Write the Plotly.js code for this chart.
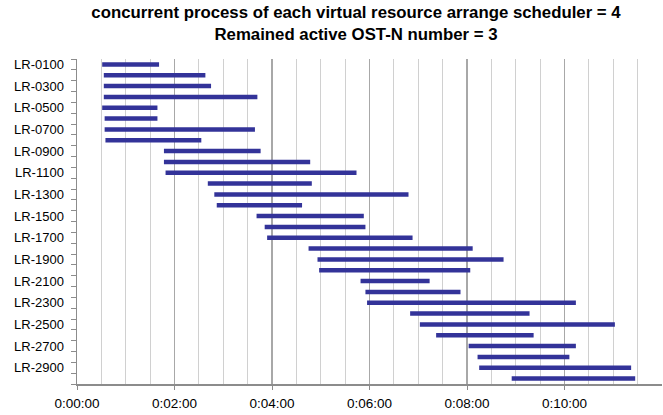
<!DOCTYPE html>
<html>
<head>
<meta charset="utf-8">
<script src="https://cdn.plot.ly/plotly-3.0.1.min.js"></script>
<style>
  html, body { margin: 0; padding: 0; background: #fff; }
  #chart { width: 663px; height: 415px; }
</style>
</head>
<body>
<div id="chart"></div>
<script>
// Resource labels (top to bottom)
const categories = [
  'LR-0100','LR-0200','LR-0300','LR-0400','LR-0500','LR-0600','LR-0700','LR-0800','LR-0900','LR-1000',
  'LR-1100','LR-1200','LR-1300','LR-1400','LR-1500','LR-1600','LR-1700','LR-1800','LR-1900','LR-2000',
  'LR-2100','LR-2200','LR-2300','LR-2400','LR-2500','LR-2600','LR-2700','LR-2800','LR-2900','LR-3000'
];
// Start and end times in seconds
const startSec = [31, 33, 33, 33, 31, 34, 34, 35, 107, 107,
                  109, 161, 169, 172, 221, 231, 234, 285, 296, 298,
                  349, 355, 357, 410, 422, 442, 482, 493, 495, 535];
const endSec   = [101, 158, 165, 222, 99, 99, 219, 153, 226, 287,
                  344, 289, 408, 277, 353, 355, 413, 487, 525, 484,
                  434, 472, 614, 557, 662, 562, 614, 606, 682, 687];
// X tick values (seconds) and labels
const xTickVals = [0, 120, 240, 360, 480, 600];
const xTickLabels = ['0:00:00', '0:02:00', '0:04:00', '0:06:00', '0:08:00', '0:10:00'];

const durations = endSec.map((e, i) => e - startSec[i]);
const yTickText = categories.map((c, i) => (i % 2 === 0 ? c : ''));

const trace = {
  type: 'bar',
  orientation: 'h',
  y: categories,
  base: startSec,
  x: durations,
  width: 0.42,
  marker: { color: '#333399', line: { width: 0 } },
  hoverinfo: 'skip'
};

const layout = {
  width: 663,
  height: 415,
  paper_bgcolor: '#ffffff',
  plot_bgcolor: '#ffffff',
  margin: { l: 77, r: 1, t: 59, b: 31, pad: 0 },
  showlegend: false,
  font: { family: 'Liberation Sans, Arial, sans-serif', color: '#000000', size: 13 },
  title: {
    text: '<b>concurrent process of each virtual resource arrange scheduler = 4<br>Remained active OST-N number = 3</b>',
    font: { family: 'Liberation Sans, Arial, sans-serif', size: 16.8, color: '#000000' },
    xref: 'container', x: 356 / 663, xanchor: 'center',
    yref: 'container', y: 1 - 18 / 415, yanchor: 'top'
  },
  xaxis: {
    type: 'linear',
    range: [0, 720],
    tickmode: 'array',
    tickvals: xTickVals,
    ticktext: xTickLabels,
    ticks: 'outside',
    ticklen: 4,
    tickcolor: '#8c8c8c',
    tickfont: { size: 13.5, color: '#000000' },
    ticklabelstandoff: 2,
    showgrid: true,
    gridcolor: '#a8a8a8',
    gridwidth: 1.2,
    minor: { tick0: 0, dtick: 30, showgrid: true, gridcolor: '#d0d0d0', gridwidth: 1, ticks: '' },
    showline: true,
    linecolor: '#8c8c8c',
    linewidth: 2,
    zeroline: false,
    fixedrange: true
  },
  yaxis: {
    type: 'category',
    categoryorder: 'array',
    categoryarray: categories,
    autorange: 'reversed',
    tickmode: 'array',
    tickvals: categories,
    ticktext: yTickText,
    tickson: 'boundaries',
    ticks: 'outside',
    ticklen: 5,
    tickcolor: '#8c8c8c',
    tickfont: { size: 13, color: '#000000' },
    ticklabelstandoff: 9,
    showgrid: false,
    showline: true,
    linecolor: '#8c8c8c',
    linewidth: 1.5,
    zeroline: false,
    fixedrange: true
  }
};

Plotly.newPlot('chart', [trace], layout, { displayModeBar: false, staticPlot: true });
</script>
</body>
</html>
